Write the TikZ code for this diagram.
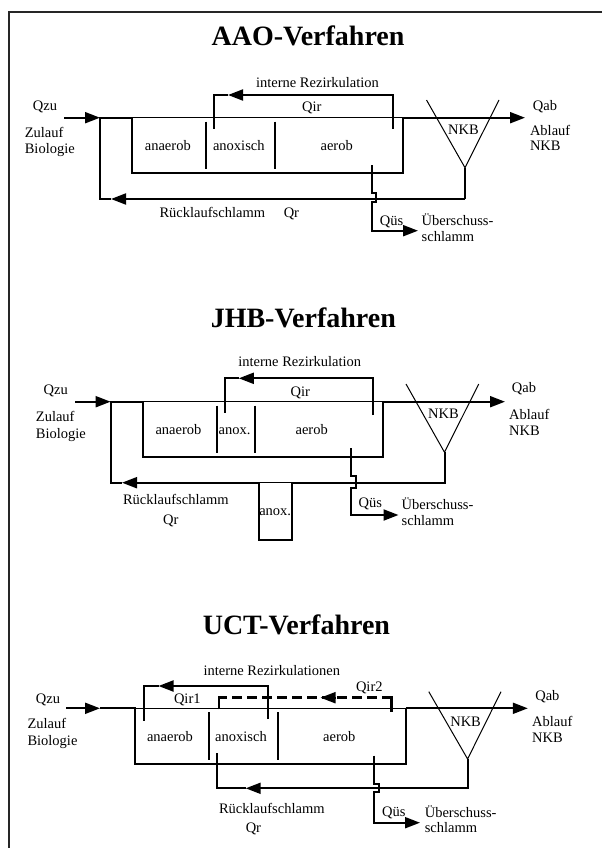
\documentclass[tikz,border=0pt]{standalone}
\usepackage{fontspec}
\setmainfont{Liberation Serif}
\usetikzlibrary{arrows.meta}
\tikzset{
  lab/.style={font=\fontsize{14.5}{16}\selectfont,inner sep=0pt,anchor=mid,yshift=-2.5pt},
  labl/.style={font=\fontsize{14.5}{16}\selectfont,inner sep=0pt,anchor=mid west,yshift=-2.5pt},
  ttl/.style={font=\fontsize{28}{30}\selectfont\bfseries,inner sep=0pt,anchor=mid,yshift=-2pt},
  thinl/.style={line width=1pt},
  thickl/.style={line width=2pt},
  arr/.style={thickl,-{Triangle[length=15pt,width=11pt]}},
}
\begin{document}
\begin{tikzpicture}[x=1pt,y=-1pt,line join=miter]
\useasboundingbox (0,0) rectangle (602,848);
\fill[white] (0,0) rectangle (602,848);
% frame
\coordinate (fa) at (602,12); \coordinate (fb) at (9,12); \coordinate (fc) at (9,848);
\draw[line width=1.3pt,black!85] (fa) -- (fb) -- (fc);

%%% AAO
\node[ttl] (t1) at (308,41) {AAO-Verfahren};
\node[lab] (ir1) at (317.5,83) {interne Rezirkulation};
\node[lab] (qir1) at (311.7,107) {Qir};
\node[lab] (qzu1) at (45,106) {Qzu};
\node[labl] (zu1) at (24.6,133) {Zulauf};
\node[labl] (bi1) at (24.6,149) {Biologie};
\node[lab] (an1) at (167.8,146) {anaerob};
\node[lab] (ax1) at (238.8,146) {anoxisch};
\node[lab] (ae1) at (336.7,146) {aerob};
\node[lab] (nk1) at (463.4,130) {NKB};
\node[lab] (qab1) at (545,106) {Qab};
\node[labl] (ab1) at (529.8,131) {Ablauf};
\node[labl] (nb1) at (529.8,146) {NKB};
\node[lab] (rs1) at (212.3,213) {Rücklaufschlamm};
\node[lab] (qr1) at (291.4,213) {Qr};
\node[lab] (qu1) at (391.6,221) {Qüs};
\node[labl] (ub1) at (421.5,221) {Überschuss-};
\node[labl] (sc1) at (421.5,237) {schlamm};
\coordinate (i1) at (64,117.7); \coordinate (j1) at (100,117.7);
\coordinate (k1) at (100,199); \coordinate (l1) at (465,199);
\coordinate (m1) at (465,167.7); \coordinate (n1) at (426.5,100); \coordinate (o1) at (499,100);
\coordinate (p1) at (132,117.7); \coordinate (q1) at (132,173.3);
\coordinate (r1) at (403,173.3); \coordinate (s1) at (403,117.7); \coordinate (u1) at (525,117.7);
\coordinate (v1) at (111,199);
\draw[arr] (i1) -- (j1);
\draw[thickl] (p1) -- (j1) -- (k1) -- (v1);
\draw[arr] (l1) -- (v1);
\draw[thickl] (m1) -- (l1);
\draw[thinl] (n1) -- (m1) -- (o1);
\draw[thinl] (p1) -- (s1);
\draw[thickl] (p1) -- (q1) -- (r1) -- (s1);
\draw[arr] (s1) -- (u1);
\draw[thickl] (206,121.7) coordinate (d1a) -- (206,169) coordinate (d1b);
\draw[thickl] (275,121.7) coordinate (d1c) -- (275,169) coordinate (d1d);
\coordinate (w1) at (393,129); \coordinate (x1) at (393,95); \coordinate (y1) at (214,95); \coordinate (z1) at (214,129.5); \coordinate (tip1) at (228,95);
\draw[arr] (w1) -- (x1) -- (tip1);
\draw[thickl] (tip1) -- (y1) -- (z1);
\coordinate (a1) at (371.6,165); \coordinate (b1) at (371.6,193.3); \coordinate (c1) at (376,193.3);
\coordinate (e1) at (376,202.3); \coordinate (f1) at (371.6,202.3); \coordinate (g1) at (371.6,230.7); \coordinate (h1) at (418,230.7);
\draw[arr] (a1) -- (b1) -- (c1) -- (e1) -- (f1) -- (g1) -- (h1);

%%% JHB
\node[ttl] (t2) at (303.3,323) {JHB-Verfahren};
\node[lab] (ir2) at (299.8,362) {interne Rezirkulation};
\node[lab] (qir2) at (300.2,392) {Qir};
\node[lab] (qzu2) at (55.7,390) {Qzu};
\node[labl] (zu2) at (35.7,417) {Zulauf};
\node[labl] (bi2) at (35.7,433.5) {Biologie};
\node[lab] (an2) at (178.5,430) {anaerob};
\node[lab] (ax2) at (234.5,430) {anox.};
\node[lab] (ae2) at (311.7,430) {aerob};
\node[lab] (nk2) at (443.4,414) {NKB};
\node[lab] (qab2) at (524,388) {Qab};
\node[labl] (ab2) at (509,414.5) {Ablauf};
\node[labl] (nb2) at (509,430.5) {NKB};
\node[lab] (rs2) at (175.8,500) {Rücklaufschlamm};
\node[lab] (qr2) at (170.8,520) {Qr};
\node[lab] (ay2) at (275.2,511) {anox.};
\node[lab] (qu2) at (370.4,503) {Qüs};
\node[labl] (ub2) at (401.5,505) {Überschuss-};
\node[labl] (sc2) at (401.5,521) {schlamm};
\coordinate (i2) at (75,401.7); \coordinate (j2) at (110.6,401.7);
\coordinate (k2) at (110.6,482.7); \coordinate (l2) at (444.5,482.7);
\coordinate (m2) at (444.5,452.3); \coordinate (n2) at (406,384); \coordinate (o2) at (478.7,384);
\coordinate (p2) at (143,401.7); \coordinate (q2) at (143,456.7);
\coordinate (r2) at (382.7,456.7); \coordinate (s2) at (382.7,401.7); \coordinate (u2) at (505,401.7);
\coordinate (v2) at (122,482.7);
\coordinate (b2a) at (259,482.7); \coordinate (b2b) at (259,540); \coordinate (b2c) at (292,540); \coordinate (b2d) at (292,482.7);
\draw[arr] (i2) -- (j2);
\draw[thickl] (p2) -- (j2) -- (k2) -- (v2);
\draw[arr] (b2a) -- (v2);
\draw[thickl] (m2) -- (l2) -- (b2d) -- (b2c) -- (b2b) -- (b2a);
\draw[thinl] (b2a) -- (b2d);
\draw[thinl] (n2) -- (m2) -- (o2);
\draw[thinl] (p2) -- (s2);
\draw[thickl] (p2) -- (q2) -- (r2) -- (s2);
\draw[arr] (s2) -- (u2);
\draw[thickl] (217,405.7) coordinate (d2a) -- (217,452.7) coordinate (d2b);
\draw[thickl] (254.5,405.7) coordinate (d2c) -- (254.5,452.7) coordinate (d2d);
\coordinate (w2) at (373,415); \coordinate (x2) at (373,378.3); \coordinate (y2) at (224.6,378.3); \coordinate (z2) at (224.6,413.3); \coordinate (tip2) at (238.8,378.3);
\draw[arr] (w2) -- (x2) -- (tip2);
\draw[thickl] (tip2) -- (y2) -- (z2);
\coordinate (a2) at (351,448.3); \coordinate (b2) at (351,476); \coordinate (c2) at (356,476);
\coordinate (e2) at (356,488.3); \coordinate (f2) at (351,488.3); \coordinate (g2) at (351,515); \coordinate (h2) at (398.5,515);
\draw[arr] (a2) -- (b2) -- (c2) -- (e2) -- (f2) -- (g2) -- (h2);

%%% UCT
\node[ttl] (t3) at (296.4,630) {UCT-Verfahren};
\node[lab] (ir3) at (271.8,671) {interne Rezirkulationen};
\node[lab] (qira3) at (187.3,699) {Qir1};
\node[lab] (qirb3) at (369.3,686.5) {Qir2};
\node[lab] (qzu3) at (48,698.5) {Qzu};
\node[labl] (zu3) at (27.3,724) {Zulauf};
\node[labl] (bi3) at (27.3,741) {Biologie};
\node[lab] (an3) at (170,737) {anaerob};
\node[lab] (ax3) at (241,737) {anoxisch};
\node[lab] (ae3) at (339.3,737) {aerob};
\node[lab] (nk3) at (465.6,722) {NKB};
\node[lab] (qab3) at (547.4,696) {Qab};
\node[labl] (ab3) at (532,722) {Ablauf};
\node[labl] (nb3) at (532,737.5) {NKB};
\node[lab] (rs3) at (271.8,809) {Rücklaufschlamm};
\node[lab] (qr3) at (253.4,828) {Qr};
\node[lab] (qu3) at (393.9,811.5) {Qüs};
\node[labl] (ub3) at (424.6,813) {Überschuss-};
\node[labl] (sc3) at (424.6,828) {schlamm};
\coordinate (i3) at (66,708.3); \coordinate (j3) at (100,708.3);
\coordinate (p3) at (134.5,708.3); \coordinate (q3) at (134.5,763.7);
\coordinate (r3) at (405.8,763.7); \coordinate (s3) at (405.8,708.3); \coordinate (u3) at (527.8,708.3);
\coordinate (m3) at (467.6,759); \coordinate (n3) at (428.8,691.7); \coordinate (o3) at (501,691.7);
\coordinate (l3) at (467.6,788.3); \coordinate (k3) at (217,788.3); \coordinate (v3) at (217,753.3); \coordinate (tip3) at (245.7,788.3);
\draw[arr] (i3) -- (j3);
\draw[thickl] (j3) -- (p3) -- (q3) -- (r3) -- (s3);
\draw[thinl] (p3) -- (s3);
\draw[arr] (s3) -- (u3);
\draw[thinl] (n3) -- (m3) -- (o3);
\draw[arr] (m3) -- (l3) -- (tip3);
\draw[thickl] (tip3) -- (k3) -- (v3);
\draw[thickl] (208.5,712.3) coordinate (d3a) -- (208.5,760) coordinate (d3b);
\draw[thickl] (277.5,712.3) coordinate (d3c) -- (277.5,760) coordinate (d3d);
\coordinate (w3) at (267.6,719); \coordinate (x3) at (267.6,686); \coordinate (y3) at (144.3,686); \coordinate (z3) at (144.3,721); \coordinate (tip3a) at (158.5,686);
\draw[arr] (w3) -- (x3) -- (tip3a);
\draw[thickl] (tip3a) -- (y3) -- (z3);
\coordinate (w3b) at (391.6,711.7); \coordinate (x3b) at (391.6,697.7); \coordinate (y3b) at (219,697.7); \coordinate (z3b) at (219,709.3); \coordinate (tip3b) at (320.5,697.7);
\draw[line width=2.6pt,dash pattern=on 10pt off 5pt] (x3b) -- (y3b);
\draw[line width=2.6pt] (w3b) -- (x3b) -- ++(-6,0);
\draw[line width=2.6pt] (z3b) -- (y3b) -- ++(6,0);
\draw[arr] (tip3b)++(15,0) -- (tip3b);
\coordinate (a3) at (374.3,755.7); \coordinate (b3) at (374.3,783.7); \coordinate (c3) at (379,783.7);
\coordinate (e3) at (379,792.3); \coordinate (f3) at (374.3,792.3); \coordinate (g3) at (374.3,822.7); \coordinate (h3) at (420,822.7);
\draw[arr] (a3) -- (b3) -- (c3) -- (e3) -- (f3) -- (g3) -- (h3);
\end{tikzpicture}
\end{document}
